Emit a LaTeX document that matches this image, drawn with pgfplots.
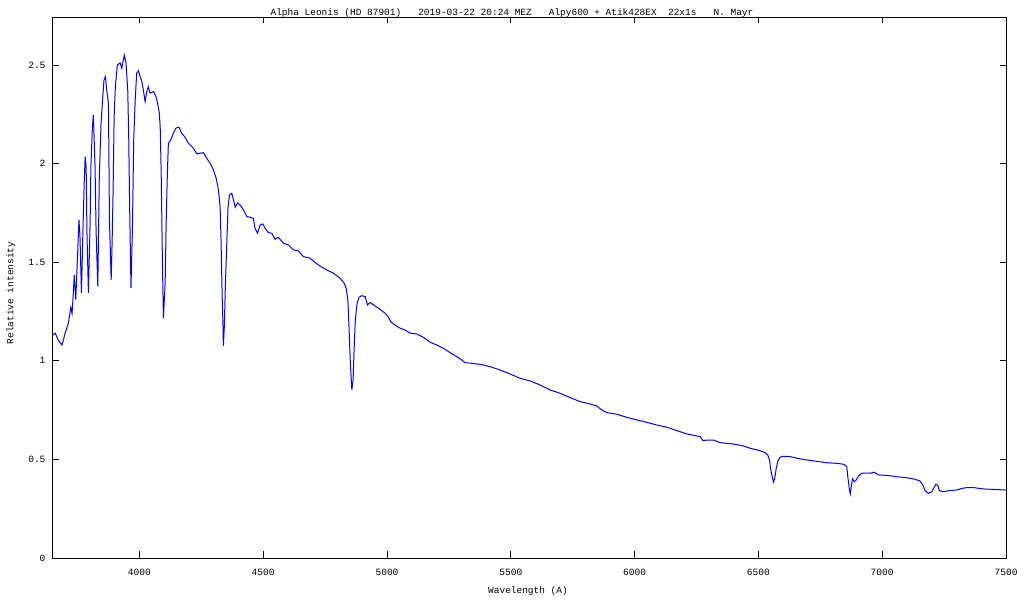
\documentclass[border=0pt]{standalone}
\usepackage{fontspec}
\setmainfont{Liberation Mono}
\usepackage{pgfplots}
\pgfplotsset{compat=1.18}
\usepackage{pgfplotstable}
\pgfplotstableread{
x y
3650 1.131
3660 1.14
3672 1.105
3687 1.08
3692 1.10
3700 1.14
3713 1.19
3723 1.27
3728 1.24
3733 1.34
3737 1.435
3743 1.31
3750 1.528
3756 1.714
3760 1.63
3766 1.344
3771 1.613
3777 1.90
3781 2.035
3785 1.98
3788 1.66
3794 1.344
3801 1.699
3804 1.98
3810 2.18
3814 2.246
3821 1.98
3825 1.66
3832 1.376
3838 1.93
3845 2.20
3851 2.32
3857 2.424
3863 2.44
3868 2.37
3875 2.307
3879 1.714
3886 1.41
3890 1.613
3894 1.88
3898 2.24
3903 2.39
3911 2.50
3922 2.51
3929 2.483
3935 2.525
3939 2.55
3946 2.51
3953 2.37
3957 2.12
3961 1.749
3966 1.368
3972 1.68
3977 2.12
3983 2.32
3989 2.458
3996 2.47
4003 2.441
4010 2.415
4016 2.373
4023 2.314
4030 2.365
4036 2.39
4043 2.357
4057 2.365
4067 2.34
4073 2.307
4080 2.26
4084 2.187
4088 1.951
4093 1.496
4097 1.215
4104 1.395
4108 1.70
4113 1.95
4117 2.103
4127 2.12
4137 2.153
4148 2.18
4160 2.184
4171 2.153
4182 2.137
4198 2.103
4218 2.078
4232 2.049
4245 2.052
4259 2.055
4272 2.027
4286 2.0
4299 1.968
4310 1.925
4317 1.883
4322 1.832
4326 1.779
4330 1.597
4334 1.342
4338 1.156
4339 1.075
4343 1.173
4347 1.375
4353 1.596
4358 1.78
4364 1.84
4373 1.849
4380 1.815
4387 1.778
4396 1.80
4407 1.79
4420 1.765
4434 1.731
4447 1.728
4460 1.722
4467 1.672
4477 1.646
4488 1.689
4498 1.694
4508 1.672
4521 1.65
4535 1.646
4548 1.616
4561 1.626
4568 1.616
4582 1.596
4602 1.587
4622 1.562
4642 1.557
4662 1.528
4689 1.52
4710 1.498
4730 1.48
4757 1.46
4784 1.444
4811 1.418
4827 1.393
4835 1.368
4842 1.308
4847 1.156
4852 0.987
4858 0.852
4863 0.903
4867 1.055
4872 1.207
4879 1.29
4887 1.322
4898 1.33
4912 1.325
4921 1.283
4932 1.295
4952 1.278
4972 1.261
4992 1.241
5006 1.22
5015 1.198
5033 1.18
5053 1.165
5073 1.156
5093 1.14
5120 1.136
5147 1.119
5174 1.094
5201 1.08
5228 1.063
5255 1.041
5282 1.021
5302 1.004
5316 0.99
5336 0.988
5376 0.982
5417 0.97
5457 0.953
5497 0.933
5538 0.911
5578 0.898
5618 0.877
5659 0.852
5699 0.835
5740 0.813
5780 0.793
5820 0.781
5847 0.771
5868 0.75
5888 0.737
5928 0.729
5969 0.713
6009 0.70
6049 0.688
6090 0.674
6130 0.663
6154 0.653
6208 0.63
6265 0.615
6276 0.595
6292 0.598
6318 0.598
6345 0.585
6399 0.578
6440 0.568
6467 0.556
6507 0.544
6527 0.534
6538 0.522
6545 0.497
6550 0.446
6557 0.404
6561 0.385
6566 0.404
6572 0.455
6579 0.493
6588 0.511
6601 0.516
6628 0.514
6655 0.506
6696 0.497
6736 0.49
6776 0.483
6817 0.48
6846 0.475
6857 0.463
6861 0.412
6867 0.353
6871 0.325
6875 0.362
6880 0.402
6887 0.387
6895 0.396
6904 0.416
6918 0.43
6951 0.43
6968 0.435
6985 0.421
7019 0.419
7059 0.412
7100 0.407
7133 0.399
7153 0.390
7164 0.370
7173 0.341
7187 0.328
7201 0.336
7207 0.353
7217 0.374
7225 0.367
7231 0.341
7247 0.336
7268 0.341
7302 0.345
7322 0.353
7342 0.357
7369 0.357
7409 0.350
7449 0.348
7490 0.345
7500 0.345
}\spectrum
\begin{document}
\begin{tikzpicture}
\path[use as bounding box] (0bp,0bp) rectangle (1024bp,600bp);
\begin{axis}[
  at={(52bp,42bp)}, anchor=south west,
  scale only axis, width=954bp, height=541bp,
  xmin=3647, xmax=7500, ymin=0, ymax=2.743,
  xtick={4000,4500,5000,5500,6000,6500,7000,7500},
  ytick={0,0.5,1,1.5,2,2.5},
  tick align=inside, tick pos=both,
  major tick length=6.5bp,
  axis line style={line width=0.8bp},
  every tick/.style={black, line width=0.8bp},
  /pgf/number format/1000 sep={},
  /pgf/number format/assume math mode=true,
  tick label style={font=\fontsize{9.6}{11}\selectfont},
  xticklabel style={yshift=-8bp},
  yticklabel style={xshift=-3bp},
]
\addplot[blue, line width=1bp, no marks] table[x=x,y=y] {\spectrum};
\end{axis}
\node[font=\fontsize{9.5}{11}\selectfont] at (512bp,587bp) {Alpha~Leonis~(HD~87901)~~~2019-03-22~20:24~MEZ~~~Alpy600~+~Atik428EX~~22x1s~~~N.~Mayr};
\node[font=\fontsize{9.5}{11}\selectfont] at (528bp,9bp) {Wavelength~(A)};
\node[font=\fontsize{9.5}{11}\selectfont, rotate=90] at (11bp,307bp) {Relative~intensity};
\end{tikzpicture}
\end{document}
